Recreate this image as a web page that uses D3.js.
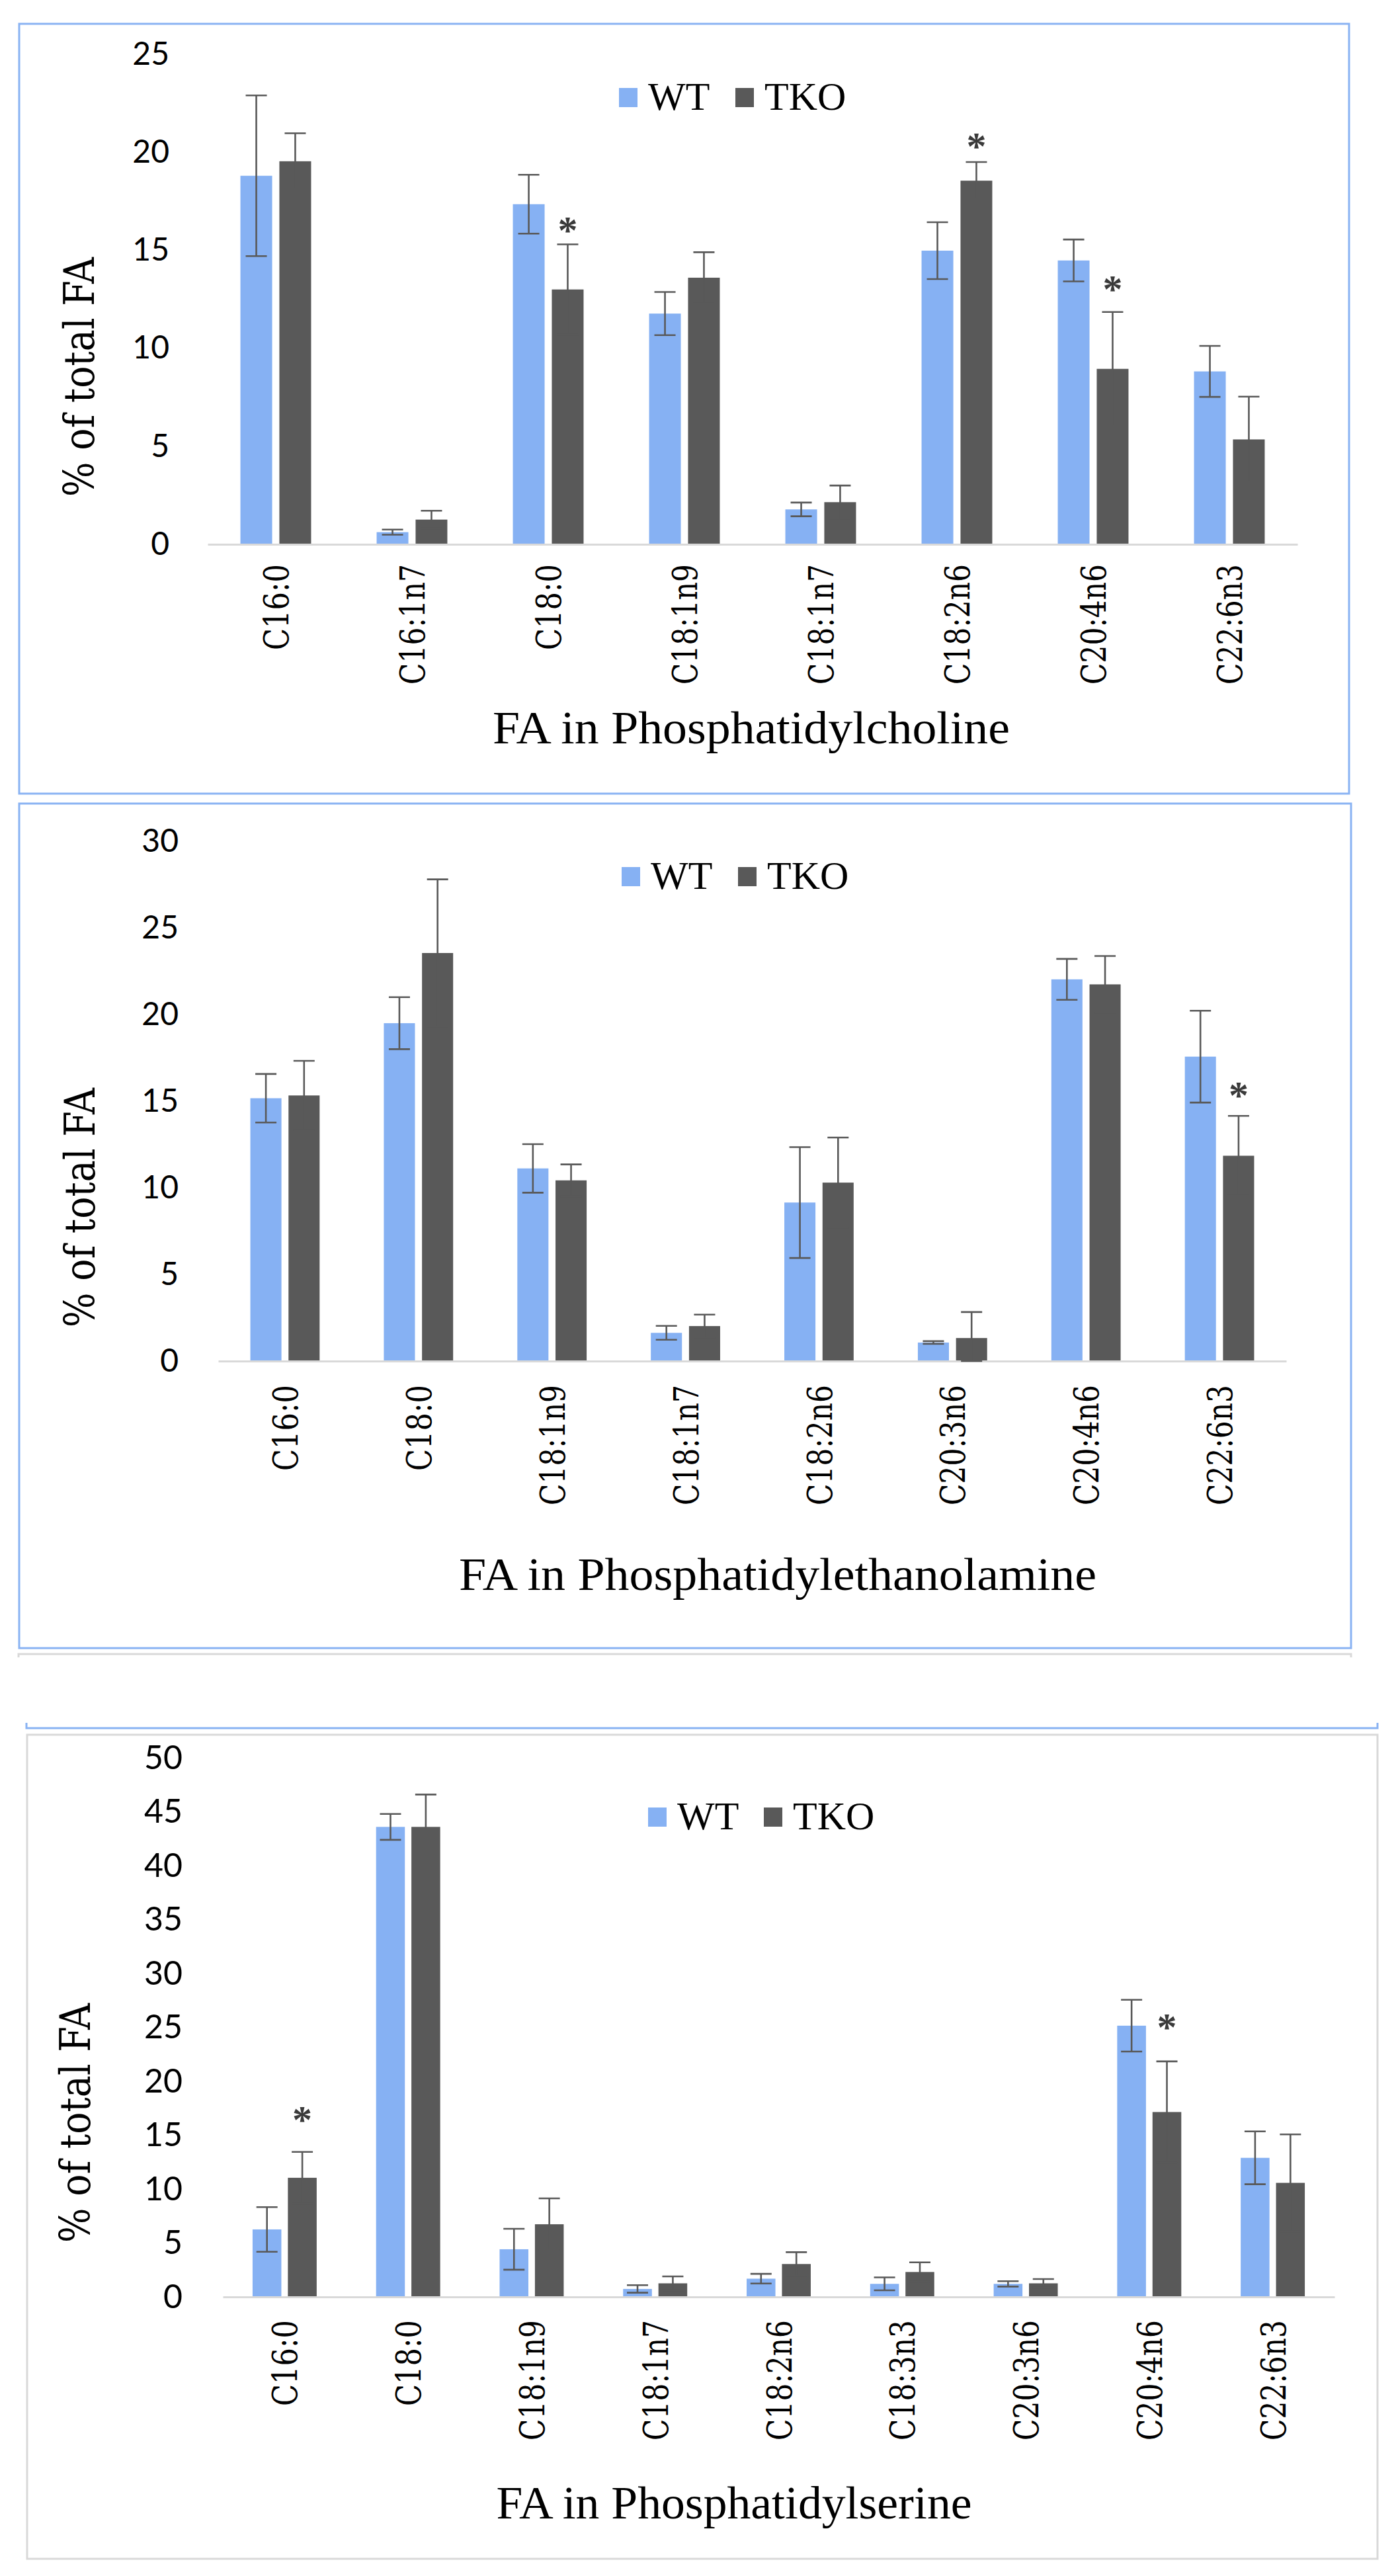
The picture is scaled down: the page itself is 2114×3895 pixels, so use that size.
<!DOCTYPE html>
<html>
<head>
<meta charset="utf-8">
<script src="https://cdn.jsdelivr.net/npm/d3@7"></script>
<style>
  body { margin: 0; background: #fff; }
  svg { display: block; }
</style>
</head>
<body>
<svg width="2114" height="3895"></svg>
<script>
const svg = d3.select("svg");

// series
const seriesNames = ["WT", "TKO"];
const colors = ["#86b1f3", "#595959"];

// Phosphatidylcholine
const pcCategories = ["C16:0", "C16:1n7", "C18:0", "C18:1n9", "C18:1n7", "C18:2n6", "C20:4n6", "C22:6n3"];
const pcWT = [18.8, 0.62, 17.35, 11.77, 1.78, 14.98, 14.48, 8.82];
const pcWTerr = [4.1, 0.13, 1.5, 1.1, 0.35, 1.45, 1.07, 1.3];
const pcTKO = [19.54, 1.26, 13.0, 13.6, 2.15, 18.55, 8.95, 5.35];
const pcTKOerr = [1.43, 0.45, 2.3, 1.3, 0.85, 0.95, 2.9, 2.18];
const pcStarCats = ["C18:0", "C18:2n6", "C20:4n6"];
const pcStarAt = [16.46, 20.75, 13.46];
const pcTicks = [0, 5, 10, 15, 20, 25];

// Phosphatidylethanolamine
const peCategories = ["C16:0", "C18:0", "C18:1n9", "C18:1n7", "C18:2n6", "C20:3n6", "C20:4n6", "C22:6n3"];
const peWT = [15.17, 19.5, 11.12, 1.63, 9.15, 1.07, 22.03, 17.57];
const peWTerr = [1.4, 1.5, 1.4, 0.4, 3.2, 0.08, 1.18, 2.65];
const peTKO = [15.33, 23.55, 10.43, 2.02, 10.3, 1.33, 21.74, 11.85];
const peTKOerr = [2.0, 4.25, 0.92, 0.66, 2.6, 1.5, 1.64, 2.3];
const peStarCats = ["C22:6n3"];
const peStarAt = [15.84];
const peTicks = [0, 5, 10, 15, 20, 25, 30];

// Phosphatidylserine
const psCategories = ["C16:0", "C18:0", "C18:1n9", "C18:1n7", "C18:2n6", "C18:3n3", "C20:3n6", "C20:4n6", "C22:6n3"];
const psWT = [6.26, 43.6, 4.42, 0.74, 1.69, 1.21, 1.21, 25.16, 12.9];
const psWTerr = [2.07, 1.2, 1.9, 0.35, 0.45, 0.6, 0.25, 2.4, 2.45];
const psTKO = [11.05, 43.6, 6.74, 1.26, 3.05, 2.31, 1.26, 17.15, 10.58];
const psTKOerr = [2.4, 3.0, 2.4, 0.64, 1.1, 0.9, 0.4, 4.7, 4.5];
const psStarCats = ["C16:0", "C20:4n6"];
const psStarAt = [17.24, 25.83];
const psTicks = [0, 5, 10, 15, 20, 25, 30, 35, 40, 45, 50];

const blue = "#8ab3f3";
const grayLine = "#d9d9d9";

// frames
svg.append("rect").attr("x", 29).attr("y", 36).attr("width", 2011).attr("height", 1164)
  .attr("fill", "none").attr("stroke", blue).attr("stroke-width", 3);
svg.append("rect").attr("x", 29).attr("y", 1215).attr("width", 2014).attr("height", 1277)
  .attr("fill", "none").attr("stroke", blue).attr("stroke-width", 3);
svg.append("path").attr("d", "M28,2506 V2501 H2043 V2506")
  .attr("fill", "none").attr("stroke", grayLine).attr("stroke-width", 3);
svg.append("path").attr("d", "M40,2605 V2613 H2083 V2605")
  .attr("fill", "none").attr("stroke", blue).attr("stroke-width", 3);
svg.append("rect").attr("x", 41).attr("y", 2623).attr("width", 2042).attr("height", 1246)
  .attr("fill", "none").attr("stroke", grayLine).attr("stroke-width", 3);

function drawPanel(p) {
  const g = svg.append("g");
  const x = d3.scaleBand().domain(p.categories).range([p.x0, p.x1]);
  const step = x.step();
  const off = 0.2405 * step;
  const xs = d3.scaleBand().domain(seriesNames)
    .range([off, off + 0.519 * step]).paddingInner(0.185);
  const y = d3.scaleLinear().domain([0, d3.max(p.ticks)]).range([p.y0, p.y1]);

  const rows = [];
  p.categories.forEach((c, i) => {
    rows.push({ c, s: "WT", v: p.wt[i], e: p.wtErr[i], k: 0 });
    rows.push({ c, s: "TKO", v: p.tko[i], e: p.tkoErr[i], k: 1 });
  });

  // y axis labels
  const ya = g.append("g").attr("transform", `translate(${p.tickX},0)`)
    .call(d3.axisLeft(y).tickValues(p.ticks).tickSize(0).tickPadding(0));
  ya.select(".domain").remove();
  ya.selectAll("text").attr("font-family", "Lato, 'Liberation Sans', sans-serif")
    .attr("font-size", p.tickFont).attr("fill", "#000");

  // bars
  g.selectAll("rect.bar").data(rows).join("rect")
    .attr("class", "bar")
    .attr("x", d => x(d.c) + xs(d.s))
    .attr("width", xs.bandwidth())
    .attr("y", d => y(d.v))
    .attr("height", d => y(0) - y(d.v))
    .attr("fill", d => colors[d.k]);

  // x axis
  const xa = g.append("g").attr("transform", `translate(0,${p.y0})`)
    .call(d3.axisBottom(x).tickSize(0).tickSizeOuter(0));
  xa.select(".domain").attr("stroke", grayLine).attr("stroke-width", 3);
  xa.selectAll("text")
    .attr("transform", "rotate(-90)")
    .attr("x", -p.labelGap).attr("y", 0).attr("dy", "0.36em")
    .style("text-anchor", "end")
    .attr("font-family", "'DejaVu Serif', serif")
    .attr("font-size", 53).attr("fill", "#000")
    .attr("textLength", d => d.length * 26)
    .attr("lengthAdjust", "spacingAndGlyphs");

  // error bars
  const eb = g.selectAll("g.err").data(rows).join("g").attr("class", "err")
    .attr("stroke", "#595959").attr("stroke-width", 2.6);
  const cx = d => x(d.c) + xs(d.s) + xs.bandwidth() / 2;
  eb.append("line").attr("x1", cx).attr("x2", cx)
    .attr("y1", d => y(d.v + d.e)).attr("y2", d => y(Math.max(0, d.v - d.e)));
  eb.append("line").attr("x1", d => cx(d) - 16).attr("x2", d => cx(d) + 16)
    .attr("y1", d => y(d.v + d.e)).attr("y2", d => y(d.v + d.e));
  eb.append("line").attr("x1", d => cx(d) - 16).attr("x2", d => cx(d) + 16)
    .attr("y1", d => y(Math.max(0, d.v - d.e))).attr("y2", d => y(Math.max(0, d.v - d.e)));

  // significance stars
  g.selectAll("text.star").data(p.starCats).join("text")
    .attr("class", "star")
    .attr("x", c => x(c) + xs("TKO") + xs.bandwidth() / 2)
    .attr("y", (c, i) => y(p.starAt[i]) + 33)
    .attr("text-anchor", "middle")
    .attr("font-family", "'Liberation Serif', serif")
    .attr("font-weight", "bold")
    .attr("font-size", 60).attr("fill", "#3a3a3a")
    .text("*");

  // legend
  const lg = g.append("g");
  seriesNames.forEach((s, i) => {
    lg.append("rect").attr("x", p.legX[i]).attr("y", p.legY - 33)
      .attr("width", 28).attr("height", 29).attr("fill", colors[i]);
    lg.append("text").attr("x", p.legX[i] + 44).attr("y", p.legY)
      .attr("font-family", "'Liberation Serif', 'Times New Roman', serif")
      .attr("font-size", 60).attr("fill", "#000").text(s);
  });

  // axis titles
  g.append("text")
    .attr("transform", `translate(${p.yTitleX},${p.yTitleY}) rotate(-90)`)
    .attr("text-anchor", "middle")
    .attr("font-family", "'DejaVu Serif', serif")
    .attr("font-size", 64).attr("fill", "#000")
    .attr("textLength", 362).attr("lengthAdjust", "spacingAndGlyphs")
    .text("% of total FA");
  g.append("text")
    .attr("x", p.titleX).attr("y", p.titleY)
    .attr("text-anchor", "middle")
    .attr("font-family", "'Liberation Serif', 'Times New Roman', serif")
    .attr("font-size", 70).attr("fill", "#000")
    .attr("textLength", p.titleLen).attr("lengthAdjust", "spacingAndGlyphs")
    .text(p.title);
}

drawPanel({
  categories: pcCategories, wt: pcWT, wtErr: pcWTerr, tko: pcTKO, tkoErr: pcTKOerr,
  starCats: pcStarCats, starAt: pcStarAt, ticks: pcTicks,
  x0: 314, x1: 1962, y0: 823, y1: 82, tickX: 256, tickFont: 48, labelGap: 30,
  legX: [936, 1112], legY: 166,
  yTitleX: 142, yTitleY: 570,
  title: "FA in Phosphatidylcholine", titleX: 1136, titleY: 1124, titleLen: 782
});

drawPanel({
  categories: peCategories, wt: peWT, wtErr: peWTerr, tko: peTKO, tkoErr: peTKOerr,
  starCats: peStarCats, starAt: peStarAt, ticks: peTicks,
  x0: 330, x1: 1945, y0: 2058, y1: 1272, tickX: 270, tickFont: 48, labelGap: 36,
  legX: [940, 1116], legY: 1344,
  yTitleX: 143, yTitleY: 1826,
  title: "FA in Phosphatidylethanolamine", titleX: 1176, titleY: 2404, titleLen: 964
});

drawPanel({
  categories: psCategories, wt: psWT, wtErr: psWTerr, tko: psTKO, tkoErr: psTKOerr,
  starCats: psStarCats, starAt: psStarAt, ticks: psTicks,
  x0: 337, x1: 2018, y0: 3473, y1: 2658, tickX: 276, tickFont: 50, labelGap: 35,
  legX: [980, 1155], legY: 2766,
  yTitleX: 136, yTitleY: 3210,
  title: "FA in Phosphatidylserine", titleX: 1110, titleY: 3808, titleLen: 719
});
</script>
</body>
</html>
